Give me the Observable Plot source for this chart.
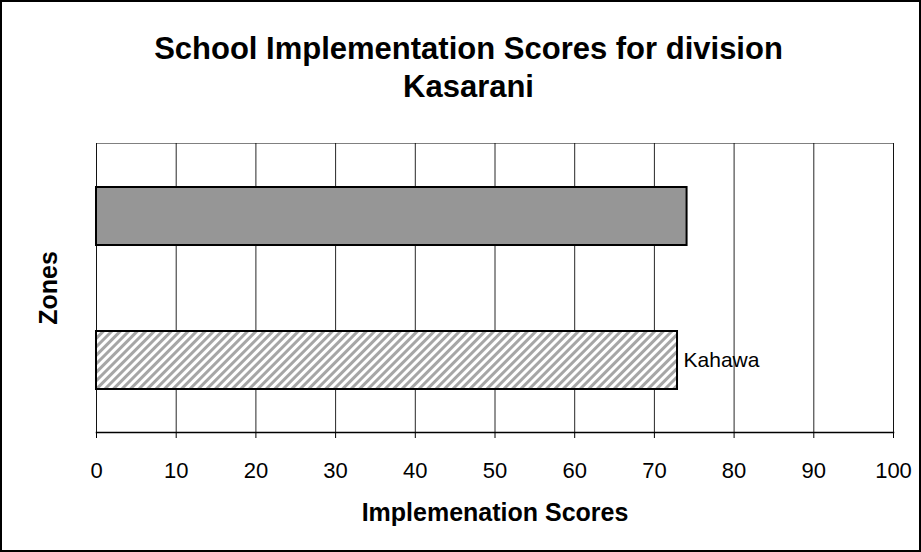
<!DOCTYPE html>
<html><head><meta charset="utf-8">
<script src="https://cdn.jsdelivr.net/npm/d3@7"></script>
<script src="https://cdn.jsdelivr.net/npm/@observablehq/plot@0.6"></script>
<style>
html,body{margin:0;padding:0;background:#fff;}
#chart{position:relative;width:921px;height:552px;box-shadow:inset 0 0 0 2px #000;font-family:"Liberation Sans",Arial,sans-serif;overflow:hidden;background:#fff;}
#title{position:absolute;left:16px;right:0;top:30px;text-align:center;font-weight:bold;font-size:31px;line-height:38px;color:#000;}
#plot{position:absolute;left:0;top:110px;}
</style></head><body>
<div id="chart"><div id="title"></div><div id="plot"></div></div>
<script>
const titleLines = ["School Implementation Scores for division", "Kasarani"];
const zones = ["Zone 1", "Kahawa"];
const scores = [74.1, 72.9];
const barLabels = ["", "Kahawa"];
const xTicks = [0, 10, 20, 30, 40, 50, 60, 70, 80, 90, 100];
const xLabel = "Implemenation Scores";
const yLabel = "Zones";

document.getElementById("title").innerHTML = titleLines.join("<br>");

const rows = zones.map((z, i) => ({zone: z, score: scores[i], label: barLabels[i]}));

const chart = Plot.plot({
  width: 921,
  height: 442,
  marginLeft: 96,
  marginRight: 28,
  marginTop: 33,
  marginBottom: 120,
  style: {fontFamily: '"Liberation Sans", Arial, sans-serif', fontSize: "22px", color: "#000", background: "transparent"},
  x: {domain: [0, 100]},
  y: {domain: zones, paddingInner: 0.6, paddingOuter: 0.3, axis: null},
  marks: [
    Plot.frame({stroke: "#808080", strokeWidth: 1}),
    Plot.gridX(xTicks, {stroke: "#000", strokeOpacity: 0.85, strokeWidth: 1}),
    Plot.barX(rows.filter((d, i) => i === 0), {x: "score", y: "zone", fill: "#969696", stroke: "#000", strokeWidth: 2}),
    Plot.barX(rows.filter((d, i) => i === 1), {x: "score", y: "zone", fill: "url(#hatch)", stroke: "#000", strokeWidth: 2}),
    Plot.text(rows, {x: "score", y: "zone", text: "label", textAnchor: "start", dx: 6, fontSize: 21, fill: "#000"}),
    Plot.frame({anchor: "bottom", stroke: "#000", strokeWidth: 1.5}),
    Plot.axisX({ticks: xTicks, tickSize: 6, tickPadding: 24, label: null, fontSize: 22, stroke: "#000", fill: "#000"}),
    Plot.text([xLabel], {frameAnchor: "bottom", dy: 88, fontWeight: "bold", fontSize: 25, fill: "#000"}),
    Plot.text([yLabel], {frameAnchor: "left", textAnchor: "middle", dx: -48, rotate: -90, fontWeight: "bold", fontSize: 25, fill: "#000"})
  ]
});

const svg = d3.select(chart);
const defs = svg.insert("defs", ":first-child");
const pat = defs.append("pattern")
  .attr("id", "hatch")
  .attr("patternUnits", "userSpaceOnUse")
  .attr("width", 6)
  .attr("height", 6)
  .attr("patternTransform", "rotate(45)");
pat.append("rect").attr("width", 6).attr("height", 6).attr("fill", "#fff");
pat.append("rect").attr("width", 3).attr("height", 6).attr("fill", "#a6a6a6");

document.getElementById("plot").appendChild(chart);
</script>
</body></html>
